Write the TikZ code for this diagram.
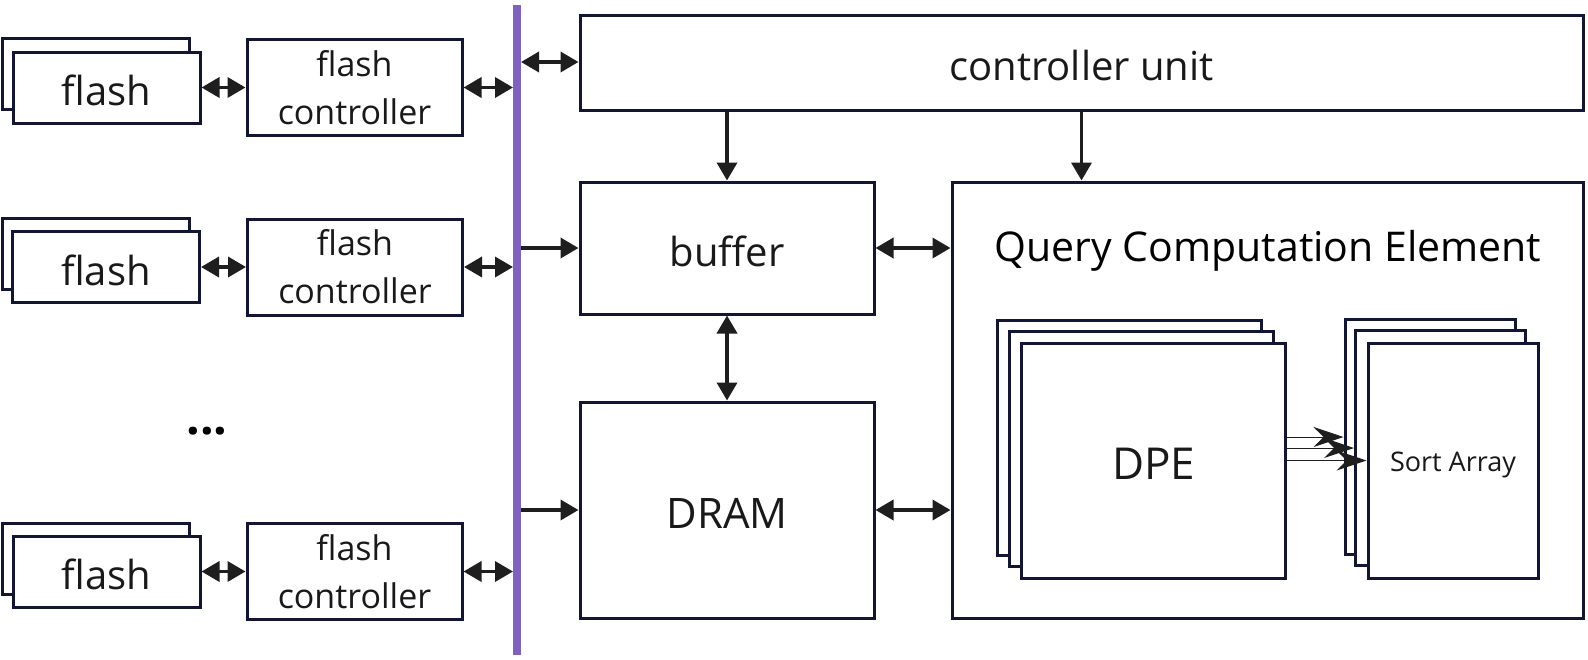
\documentclass[tikz,border=0pt]{standalone}
\usepackage{fontspec}
\setmainfont{Open Sans}
\usetikzlibrary{arrows.meta,positioning}
\definecolor{boxline}{RGB}{18,22,52}
\definecolor{busline}{RGB}{128,96,192}
\definecolor{arrowline}{RGB}{30,30,30}
\begin{document}
\begin{tikzpicture}[x=0.5pt,y=-0.5pt,
	>={Triangle[length=9pt,width=10pt]},
	box/.style={draw=boxline,line width=1.5pt,fill=white,inner sep=0pt,align=center,text=black!90},
	flashbox/.style={box,minimum width=93.5pt,minimum height=35.5pt,font=\fontsize{20}{24}\selectfont,text height=18pt,text depth=0pt},
	ctrlbox/.style={box,minimum width=107.5pt,minimum height=48pt,font=\fontsize{17}{24}\selectfont},
	stackbox/.style={box,minimum width=132pt,minimum height=117.5pt},
	sortbox/.style={box,minimum width=85pt,minimum height=117.5pt,font=\fontsize{13.5}{16}\selectfont},
	link/.style={arrowline,line width=1.8pt},
	fine/.style={arrowline,line width=0.5pt,-{Stealth[length=15pt,width=10pt,inset=5pt]}}]

	\useasboundingbox (0,0) rectangle (1588,659);

	\coordinate (bus_t) at (517,5);
	\coordinate (bus_b) at (517,655);
	\draw[busline,line width=4pt] (bus_t) -- (bus_b);

	\node(fb_1) [flashbox] at (96,74)      {};
	\node(f_1)  [flashbox] at (106.5,87.5) {flash};
	\node(fc_1) [ctrlbox]  at (354.5,87.5) {flash\\controller};

	\node(fb_2) [flashbox] at (96,254)     {};
	\node(f_2)  [flashbox] at (106,267)    {flash};
	\node(fc_2) [ctrlbox]  at (355,267)    {flash\\controller};

	\node(fb_3) [flashbox] at (96,558.5)   {};
	\node(f_3)  [flashbox] at (106.5,571.5){flash};
	\node(fc_3) [ctrlbox]  at (354.5,571.5){flash\\controller};

	\node(dots) [anchor=base,font=\fontsize{24}{28}\selectfont\bfseries] at (207,434) {...};

	\node(cu)   [box,minimum width=501.5pt,minimum height=47.5pt,font=\fontsize{20}{24}\selectfont,text height=18.2pt,text depth=0pt] at (1081.5,62.5) {controller unit};
	\node(buf)  [box,minimum width=147pt,minimum height=66pt,font=\fontsize{20}{24}\selectfont,text height=18.2pt,text depth=0pt] at (727,248) {buffer};
	\node(dram) [box,minimum width=147pt,minimum height=108pt,font=\fontsize{21}{24}\selectfont,text height=18pt,text depth=0pt] at (727,510) {DRAM};
	\node(qce)  [box,minimum width=315.5pt,minimum height=218pt] at (1267.5,400) {};
	\node(qce_t) [font=\fontsize{20.5}{24}\selectfont] at (1268,251) {Query Computation Element};

	\node(dpe_3) [stackbox] at (1129.5,437.5) {};
	\node(dpe_2) [stackbox] at (1141.5,448.5) {};
	\node(dpe_1) [stackbox,font=\fontsize{22}{26}\selectfont,text height=18.7pt,text depth=0pt] at (1153.5,460.5) {DPE};

	\node(sa_3) [sortbox] at (1430,437)    {};
	\node(sa_2) [sortbox] at (1440.5,448)  {};
	\node(sa_1) [sortbox,text height=11.4pt,text depth=0pt] at (1453,460.5)  {Sort Array};

	\draw[link,<->] (f_1) -- (fc_1);
	\draw[link,<->] (f_2) -- (fc_2);
	\draw[link,<->] (f_3) -- (fc_3);
	\draw[link,<->,shorten >=2pt] (fc_1) -- (fc_1.east -| bus_t);
	\draw[link,<->,shorten >=2pt] (fc_2) -- (fc_2.east -| bus_t);
	\draw[link,<->,shorten >=2pt] (fc_3) -- (fc_3.east -| bus_t);

	\coordinate (cu_in) at (cu.west |- 0,62);
	\draw[link,<->,shorten <=2pt] (cu_in -| bus_t) -- (cu_in);
	\draw[link,->,shorten <=2pt] (buf.west -| bus_t) -- (buf);
	\draw[link,->,shorten <=2pt] (dram.west -| bus_t) -- (dram);

	\draw[link,->] (cu.south -| buf) -- (buf);
	\draw[link,->] (cu) -- (cu.south |- qce.north);
	\draw[link,<->] (buf) -- (dram);
	\draw[link,<->] (buf) -- (buf.east -| qce.west);
	\draw[link,<->] (dram) -- (dram.east -| qce.west);

	\draw[fine] (sa_3.west -| dpe_1.east) -- (sa_3.west);
	\draw[fine] (sa_2.west -| dpe_1.east) -- (sa_2.west);
	\draw[fine] (sa_1.west -| dpe_1.east) -- (sa_1.west);
\end{tikzpicture}
\end{document}
